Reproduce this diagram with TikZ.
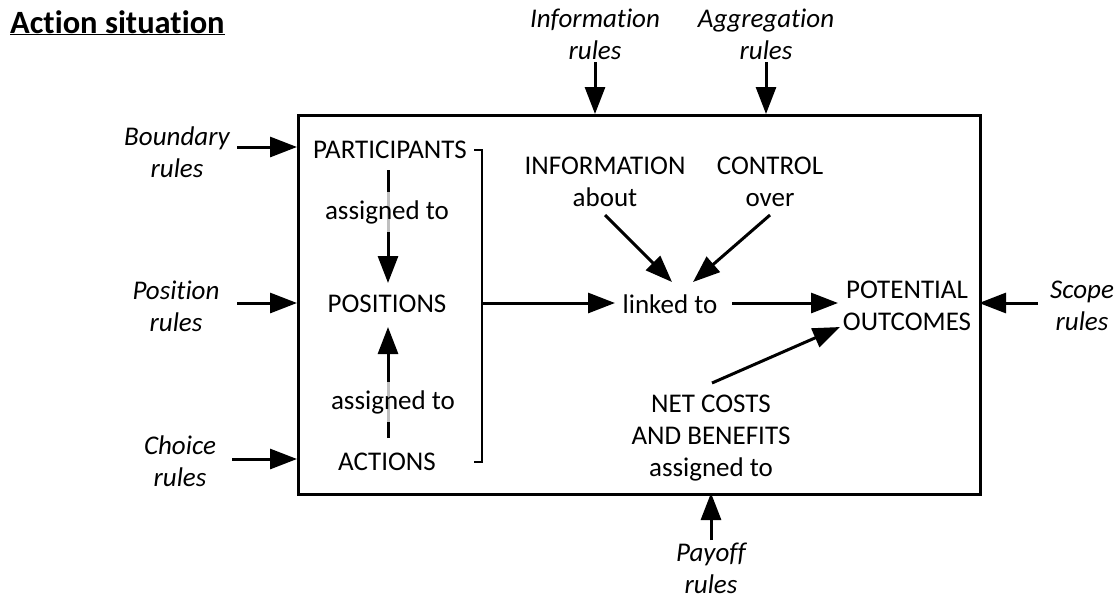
\documentclass[tikz,border=0pt]{standalone}
\usepackage{fontspec}
\setmainfont[Ligatures={NoCommon}]{Carlito}
\usetikzlibrary{arrows.meta}
\begin{document}
\begin{tikzpicture}[x=1pt,y=-1pt,
  arr/.style={line width=3pt,-{Triangle[length=27pt,width=20pt]}},
  lbl/.style={font=\fontsize{27}{32}\selectfont,align=center,inner sep=0pt},
  rulelbl/.style={lbl,font=\fontsize{27}{32}\selectfont\itshape},
  veil/.style={lbl,fill=white,fill opacity=0.75,text opacity=1,inner ysep=8pt,inner xsep=1pt},
  bracketline/.style={line width=2.5pt}
]
\useasboundingbox (0,0) rectangle (1115,598);

% title
\node[anchor=base west,inner sep=0pt,font=\bfseries\fontsize{32.5}{38}\selectfont] (title) at (10,33) {\underline{Action situation}};

% main box
\node[draw,line width=3pt,minimum width=682pt,minimum height=379pt,inner sep=0pt,anchor=north west] (box) at (297,114) {};

% rule labels
\node[rulelbl] (boundary) at (177,152) {Boundary\\rules};
\node[rulelbl] (position) at (176,306) {Position\\rules};
\node[rulelbl] (choice) at (180,461) {Choice\\rules};
\node[rulelbl] (information) at (595,34) {Information\\rules};
\node[rulelbl] (aggregation) at (766,34) {Aggregation\\rules};
\node[rulelbl] (scope) at (1082,306) {Scope\\rules};
\node[rulelbl] (payoff) at (711,568) {Payoff\\rules};

% inner labels
\node[lbl] (part) at (390,150) {PARTICIPANTS};
\node[lbl] (pos) at (387,304) {POSITIONS};
\node[lbl] (act) at (387,462) {ACTIONS};
\node[lbl] (infoabout) at (605,182) {INFORMATION\\about};
\node[lbl] (ctrlover) at (770,182) {CONTROL\\over};
\node[lbl] (linked) at (670,304) {linked to};
\node[lbl] (outcomes) at (907,306) {POTENTIAL\\OUTCOMES};
\node[lbl] (netcosts) at (711,438) {NET COSTS\\AND BENEFITS\\assigned to};

% connector end points
\coordinate (bndS) at (237,147); \coordinate (bndE) at (297,147);
\coordinate (posS) at (237,303); \coordinate (posE) at (297,303);
\coordinate (chS) at (232,459);  \coordinate (chE) at (297,459);
\coordinate (infS) at (595,62);  \coordinate (infE) at (595,114);
\coordinate (agS) at (766,62);   \coordinate (agE) at (766,114);
\coordinate (scS) at (1038,303); \coordinate (scE) at (979,303);
\coordinate (paS) at (711,540);  \coordinate (paE) at (711,493);
\coordinate (partB) at (388,170); \coordinate (posT) at (388,283);
\coordinate (actT) at (388,438);  \coordinate (posB) at (388,327);
\coordinate (brT) at (474,150); \coordinate (brTR) at (482,150);
\coordinate (brM) at (482,303);
\coordinate (brB) at (474,462); \coordinate (brBR) at (482,462);
\coordinate (linkW) at (615,303);
\coordinate (aboutS) at (605,215); \coordinate (linkA) at (672,282);
\coordinate (overS) at (770,215);  \coordinate (linkO) at (693,282);
\coordinate (linkE) at (732,303);  \coordinate (outW) at (838,303);
\coordinate (netN) at (712,383);   \coordinate (outSW) at (840,327);

% rule arrows
\draw[arr] (bndS) -- (bndE);
\draw[arr] (posS) -- (posE);
\draw[arr] (chS) -- (chE);
\draw[arr] (infS) -- (infE);
\draw[arr] (agS) -- (agE);
\draw[arr] (scS) -- (scE);
\draw[arr] (paS) -- (paE);

% bracket
\draw[bracketline] (brT) -- (brTR) -- (brBR) -- (brB);

% inner arrows
\draw[arr] (partB) -- (posT);
\draw[arr] (actT) -- (posB);
\node[veil] (as1) at (387,212) {assigned to};
\node[veil] (as2) at (393,402) {assigned to};
\draw[arr] (brM) -- (linkW);
\draw[arr] (aboutS) -- (linkA);
\draw[arr] (overS) -- (linkO);
\draw[arr] (linkE) -- (outW);
\draw[arr] (netN) -- (outSW);
\end{tikzpicture}
\end{document}
